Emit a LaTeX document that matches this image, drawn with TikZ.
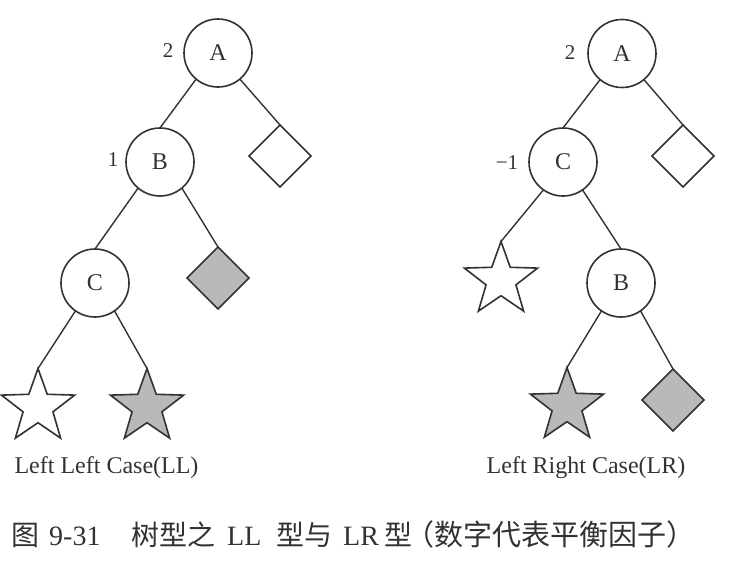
\documentclass[tikz,border=0pt]{standalone}
\usepackage{fontspec}
\setmainfont{Liberation Serif}
\newfontfamily\cjk{Noto Sans CJK SC}
\usetikzlibrary{shapes.geometric}
\definecolor{ink}{RGB}{50,50,50}
\definecolor{shade}{RGB}{185,185,185}
\tikzset{
  tnode/.style={circle,draw=ink,line width=1.6pt,minimum size=68pt,inner sep=0pt,outer sep=0pt,text=ink,font=\fontsize{24}{26}\selectfont},
  leafd/.style={diamond,draw=ink,line width=1.6pt,minimum width=62pt,minimum height=62pt,inner sep=0pt,outer sep=0pt,aspect=1},
  leafs/.style={star,star points=5,star point ratio=2.45,draw=ink,line width=1.6pt,minimum size=77pt,inner sep=0pt,outer sep=0pt},
  bf/.style={text=ink,font=\fontsize{21}{23}\selectfont,inner sep=0pt},
  casetxt/.style={text=ink,font=\fontsize{24}{26}\selectfont,inner sep=0pt},
  captxt/.style={text=ink,font=\fontsize{28}{30}\selectfont,inner sep=0pt,anchor=base west},
  edge/.style={draw=ink,line width=1.4pt}
}
\begin{document}
\begin{tikzpicture}[x=1pt,y=-1pt]
\useasboundingbox (0,0) rectangle (753,573);
% left tree
\node[tnode] (A1) at (218,53) {A};
\node[bf] (l2a) at (168,51) {2};
\node[tnode] (B1) at (160,162) {B};
\node[bf] (l1) at (113,160) {1};
\node[leafd,fill=white] (D1) at (280,156) {};
\node[tnode] (C1) at (95,283) {C};
\node[leafd,fill=shade] (G1) at (218,278) {};
\node[leafs,fill=white] (S1) at (38,407) {};
\node[leafs,fill=shade] (S2) at (147,407) {};
\node[casetxt] (t1) at (106.5,468) {Left Left Case(LL)};
\draw[edge] (A1.230) -- (B1.north);
\draw[edge] (A1.310) -- (D1.north);
\draw[edge] (B1.230) -- (C1.north);
\draw[edge] (B1.310) -- (G1.north);
\draw[edge] (C1.235) -- (S1.north);
\draw[edge] (C1.305) -- (S2.north);
% right tree
\node[tnode] (A2) at (622,53.5) {A};
\node[bf] (l2b) at (570,53) {2};
\node[tnode] (C2) at (563,162) {C};
\node[bf] (lm1) at (507,163) {−1};
\node[leafd,fill=white] (D2) at (683,156) {};
\node[leafs,fill=white] (S3) at (501,280) {};
\node[tnode] (B2) at (621,283) {B};
\node[leafs,fill=shade] (S4) at (567,406) {};
\node[leafd,fill=shade] (G2) at (673,400) {};
\node[casetxt] (t2) at (586,468) {Left Right Case(LR)};
\draw[edge] (A2.230) -- (C2.north);
\draw[edge] (A2.310) -- (D2.north);
\draw[edge] (C2.235) -- (S3.north);
\draw[edge] (C2.305) -- (B2.north);
\draw[edge] (B2.235) -- (S4.north);
\draw[edge] (B2.305) -- (G2.north);
% caption
\node[captxt] (cap1) at (11,545) {\cjk 图};
\node[captxt] (cap2) at (49,545) {9-31};
\node[captxt] (cap3) at (131,545) {\cjk 树型之};
\node[captxt] (cap4) at (227,545) {LL};
\node[captxt] (cap5) at (276,545) {\cjk 型与};
\node[captxt] (cap6) at (343,545) {LR};
\node[captxt] (cap7) at (384,545) {\cjk 型};
\node[captxt,font=\fontsize{29}{31}\selectfont] (cap8) at (405,545) {\cjk （数字代表平衡因子）};
\end{tikzpicture}
\end{document}
